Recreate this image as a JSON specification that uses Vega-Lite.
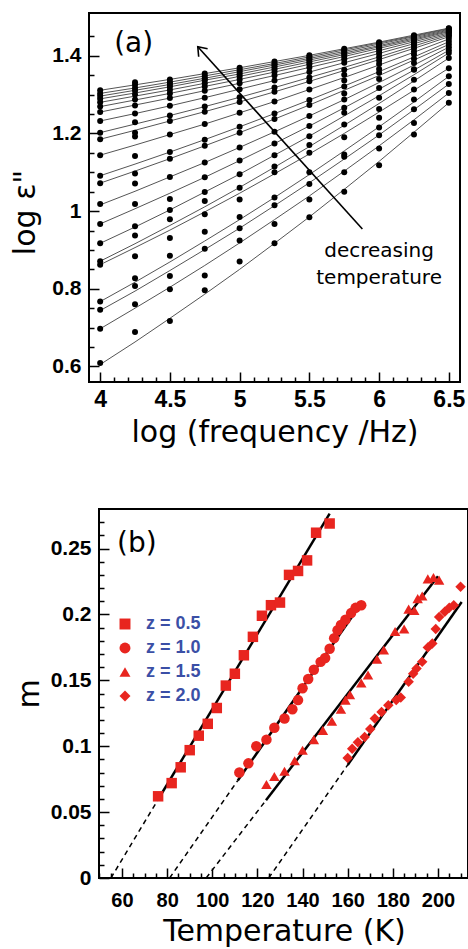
{
"$schema":"https://vega.github.io/schema/vega-lite/v6.json",
"background":"white",
"padding":{"left":8,"top":12,"right":0,"bottom":0},
"spacing":59,
"config":{
 "view":{"stroke":"black","strokeWidth":2},
 "axis":{"domain":false,"grid":false,"tickColor":"black","tickWidth":1.5,"tickSize":-10,"labelColor":"black","labelFont":"Liberation Sans","labelFontWeight":"bold","titleFont":"DejaVu Sans","titleFontWeight":"normal","titleColor":"black","labelOverlap":false,"labelSeparation":-50,"labelFlush":false},
 "text":{"font":"DejaVu Sans","color":"black"}
},
"datasets":{
 "curves":[
{"c":1,"X":4,"fit":0.605,"obs":0.609},{"c":1,"X":4.25,"fit":0.663,"obs":0.689},{"c":1,"X":4.5,"fit":0.724,"obs":0.717},{"c":1,"X":4.75,"fit":0.786,"obs":0.796},{"c":1,"X":5,"fit":0.85,"obs":0.87},{"c":1,"X":5.25,"fit":0.917,"obs":0.917},{"c":1,"X":5.5,"fit":0.985,"obs":0.984},{"c":1,"X":5.75,"fit":1.056,"obs":1.05},{"c":1,"X":6,"fit":1.128,"obs":1.118},{"c":1,"X":6.25,"fit":1.203,"obs":1.197},{"c":1,"X":6.5,"fit":1.279,"obs":1.279},
{"c":2,"X":4,"fit":0.697,"obs":0.697},{"c":2,"X":4.25,"fit":0.75,"obs":0.76},{"c":2,"X":4.5,"fit":0.804,"obs":0.799},{"c":2,"X":4.75,"fit":0.86,"obs":0.834},{"c":2,"X":5,"fit":0.918,"obs":0.924},{"c":2,"X":5.25,"fit":0.978,"obs":0.967},{"c":2,"X":5.5,"fit":1.039,"obs":1.03},{"c":2,"X":5.75,"fit":1.103,"obs":1.1},{"c":2,"X":6,"fit":1.168,"obs":1.161},{"c":2,"X":6.25,"fit":1.235,"obs":1.227},{"c":2,"X":6.5,"fit":1.304,"obs":1.304},
{"c":3,"X":4,"fit":0.744,"obs":0.746},{"c":3,"X":4.25,"fit":0.794,"obs":0.807},{"c":3,"X":4.5,"fit":0.847,"obs":0.833},{"c":3,"X":4.75,"fit":0.901,"obs":0.903},{"c":3,"X":5,"fit":0.956,"obs":0.956},{"c":3,"X":5.25,"fit":1.014,"obs":1.015},{"c":3,"X":5.5,"fit":1.073,"obs":1.07},{"c":3,"X":5.75,"fit":1.134,"obs":1.14},{"c":3,"X":6,"fit":1.196,"obs":1.195},{"c":3,"X":6.25,"fit":1.261,"obs":1.262},{"c":3,"X":6.5,"fit":1.327,"obs":1.327},
{"c":4,"X":4,"fit":0.767,"obs":0.767},{"c":4,"X":4.25,"fit":0.817,"obs":0.827},{"c":4,"X":4.5,"fit":0.869,"obs":0.885},{"c":4,"X":4.75,"fit":0.923,"obs":0.947},{"c":4,"X":5,"fit":0.978,"obs":0.985},{"c":4,"X":5.25,"fit":1.035,"obs":1.035},{"c":4,"X":5.5,"fit":1.094,"obs":1.1},{"c":4,"X":5.75,"fit":1.155,"obs":1.146},{"c":4,"X":6,"fit":1.217,"obs":1.215},{"c":4,"X":6.25,"fit":1.281,"obs":1.287},{"c":4,"X":6.5,"fit":1.347,"obs":1.347},
{"c":5,"X":4,"fit":0.862,"obs":0.862},{"c":5,"X":4.25,"fit":0.906,"obs":0.884},{"c":5,"X":4.5,"fit":0.951,"obs":0.931},{"c":5,"X":4.75,"fit":0.998,"obs":0.992},{"c":5,"X":5,"fit":1.046,"obs":1.03},{"c":5,"X":5.25,"fit":1.096,"obs":1.1},{"c":5,"X":5.5,"fit":1.147,"obs":1.15},{"c":5,"X":5.75,"fit":1.2,"obs":1.19},{"c":5,"X":6,"fit":1.255,"obs":1.24},{"c":5,"X":6.25,"fit":1.311,"obs":1.313},{"c":5,"X":6.5,"fit":1.368,"obs":1.368},
{"c":6,"X":4,"fit":0.871,"obs":0.871},{"c":6,"X":4.25,"fit":0.916,"obs":0.937},{"c":6,"X":4.5,"fit":0.963,"obs":0.979},{"c":6,"X":4.75,"fit":1.011,"obs":1.026},{"c":6,"X":5,"fit":1.061,"obs":1.06},{"c":6,"X":5.25,"fit":1.113,"obs":1.115},{"c":6,"X":5.5,"fit":1.166,"obs":1.17},{"c":6,"X":5.75,"fit":1.221,"obs":1.223},{"c":6,"X":6,"fit":1.277,"obs":1.263},{"c":6,"X":6.25,"fit":1.335,"obs":1.338},{"c":6,"X":6.5,"fit":1.394,"obs":1.394},
{"c":7,"X":4,"fit":0.917,"obs":0.917},{"c":7,"X":4.25,"fit":0.959,"obs":0.961},{"c":7,"X":4.5,"fit":1.003,"obs":1.003},{"c":7,"X":4.75,"fit":1.049,"obs":1.049},{"c":7,"X":5,"fit":1.095,"obs":1.095},{"c":7,"X":5.25,"fit":1.144,"obs":1.144},{"c":7,"X":5.5,"fit":1.193,"obs":1.193},{"c":7,"X":5.75,"fit":1.245,"obs":1.253},{"c":7,"X":6,"fit":1.297,"obs":1.292},{"c":7,"X":6.25,"fit":1.351,"obs":1.364},{"c":7,"X":6.5,"fit":1.407,"obs":1.407},
{"c":8,"X":4,"fit":0.967,"obs":0.967},{"c":8,"X":4.25,"fit":1.006,"obs":1.018},{"c":8,"X":4.5,"fit":1.046,"obs":1.031},{"c":8,"X":4.75,"fit":1.087,"obs":1.087},{"c":8,"X":5,"fit":1.13,"obs":1.13},{"c":8,"X":5.25,"fit":1.174,"obs":1.174},{"c":8,"X":5.5,"fit":1.219,"obs":1.219},{"c":8,"X":5.75,"fit":1.266,"obs":1.266},{"c":8,"X":6,"fit":1.314,"obs":1.317},{"c":8,"X":6.25,"fit":1.363,"obs":1.365},{"c":8,"X":6.5,"fit":1.414,"obs":1.414},
{"c":9,"X":4,"fit":1.016,"obs":1.018},{"c":9,"X":4.25,"fit":1.051,"obs":1.071},{"c":9,"X":4.5,"fit":1.088,"obs":1.088},{"c":9,"X":4.75,"fit":1.125,"obs":1.125},{"c":9,"X":5,"fit":1.164,"obs":1.164},{"c":9,"X":5.25,"fit":1.204,"obs":1.204},{"c":9,"X":5.5,"fit":1.245,"obs":1.245},{"c":9,"X":5.75,"fit":1.287,"obs":1.287},{"c":9,"X":6,"fit":1.331,"obs":1.34},{"c":9,"X":6.25,"fit":1.376,"obs":1.381},{"c":9,"X":6.5,"fit":1.422,"obs":1.422},
{"c":10,"X":4,"fit":1.072,"obs":1.072},{"c":10,"X":4.25,"fit":1.103,"obs":1.097},{"c":10,"X":4.5,"fit":1.135,"obs":1.135},{"c":10,"X":4.75,"fit":1.168,"obs":1.168},{"c":10,"X":5,"fit":1.202,"obs":1.202},{"c":10,"X":5.25,"fit":1.237,"obs":1.237},{"c":10,"X":5.5,"fit":1.273,"obs":1.273},{"c":10,"X":5.75,"fit":1.311,"obs":1.303},{"c":10,"X":6,"fit":1.349,"obs":1.356},{"c":10,"X":6.25,"fit":1.389,"obs":1.392},{"c":10,"X":6.5,"fit":1.429,"obs":1.429},
{"c":11,"X":4,"fit":1.091,"obs":1.091},{"c":11,"X":4.25,"fit":1.121,"obs":1.142},{"c":11,"X":4.5,"fit":1.152,"obs":1.152},{"c":11,"X":4.75,"fit":1.184,"obs":1.184},{"c":11,"X":5,"fit":1.217,"obs":1.217},{"c":11,"X":5.25,"fit":1.251,"obs":1.251},{"c":11,"X":5.5,"fit":1.286,"obs":1.286},{"c":11,"X":5.75,"fit":1.322,"obs":1.321},{"c":11,"X":6,"fit":1.359,"obs":1.366},{"c":11,"X":6.25,"fit":1.397,"obs":1.403},{"c":11,"X":6.5,"fit":1.436,"obs":1.436},
{"c":12,"X":4,"fit":1.144,"obs":1.144},{"c":12,"X":4.25,"fit":1.17,"obs":1.192},{"c":12,"X":4.5,"fit":1.197,"obs":1.197},{"c":12,"X":4.75,"fit":1.224,"obs":1.224},{"c":12,"X":5,"fit":1.253,"obs":1.253},{"c":12,"X":5.25,"fit":1.282,"obs":1.282},{"c":12,"X":5.5,"fit":1.313,"obs":1.313},{"c":12,"X":5.75,"fit":1.344,"obs":1.336},{"c":12,"X":6,"fit":1.376,"obs":1.379},{"c":12,"X":6.25,"fit":1.409,"obs":1.411},{"c":12,"X":6.5,"fit":1.443,"obs":1.443},
{"c":13,"X":4,"fit":1.185,"obs":1.185},{"c":13,"X":4.25,"fit":1.208,"obs":1.202},{"c":13,"X":4.5,"fit":1.232,"obs":1.232},{"c":13,"X":4.75,"fit":1.256,"obs":1.256},{"c":13,"X":5,"fit":1.281,"obs":1.281},{"c":13,"X":5.25,"fit":1.307,"obs":1.307},{"c":13,"X":5.5,"fit":1.334,"obs":1.334},{"c":13,"X":5.75,"fit":1.362,"obs":1.351},{"c":13,"X":6,"fit":1.39,"obs":1.388},{"c":13,"X":6.25,"fit":1.419,"obs":1.419},{"c":13,"X":6.5,"fit":1.449,"obs":1.449},
{"c":14,"X":4,"fit":1.202,"obs":1.202},{"c":14,"X":4.25,"fit":1.224,"obs":1.229},{"c":14,"X":4.5,"fit":1.246,"obs":1.246},{"c":14,"X":4.75,"fit":1.269,"obs":1.269},{"c":14,"X":5,"fit":1.293,"obs":1.293},{"c":14,"X":5.25,"fit":1.318,"obs":1.318},{"c":14,"X":5.5,"fit":1.344,"obs":1.344},{"c":14,"X":5.75,"fit":1.37,"obs":1.364},{"c":14,"X":6,"fit":1.397,"obs":1.397},{"c":14,"X":6.25,"fit":1.425,"obs":1.426},{"c":14,"X":6.5,"fit":1.453,"obs":1.453},
{"c":15,"X":4,"fit":1.232,"obs":1.232},{"c":15,"X":4.25,"fit":1.251,"obs":1.251},{"c":15,"X":4.5,"fit":1.271,"obs":1.271},{"c":15,"X":4.75,"fit":1.292,"obs":1.292},{"c":15,"X":5,"fit":1.314,"obs":1.314},{"c":15,"X":5.25,"fit":1.336,"obs":1.336},{"c":15,"X":5.5,"fit":1.358,"obs":1.358},{"c":15,"X":5.75,"fit":1.382,"obs":1.382},{"c":15,"X":6,"fit":1.406,"obs":1.406},{"c":15,"X":6.25,"fit":1.431,"obs":1.431},{"c":15,"X":6.5,"fit":1.456,"obs":1.456},
{"c":16,"X":4,"fit":1.255,"obs":1.255},{"c":16,"X":4.25,"fit":1.273,"obs":1.272},{"c":16,"X":4.5,"fit":1.291,"obs":1.291},{"c":16,"X":4.75,"fit":1.31,"obs":1.31},{"c":16,"X":5,"fit":1.329,"obs":1.329},{"c":16,"X":5.25,"fit":1.349,"obs":1.349},{"c":16,"X":5.5,"fit":1.37,"obs":1.37},{"c":16,"X":5.75,"fit":1.391,"obs":1.391},{"c":16,"X":6,"fit":1.413,"obs":1.413},{"c":16,"X":6.25,"fit":1.436,"obs":1.436},{"c":16,"X":6.5,"fit":1.459,"obs":1.459},
{"c":17,"X":4,"fit":1.269,"obs":1.269},{"c":17,"X":4.25,"fit":1.286,"obs":1.287},{"c":17,"X":4.5,"fit":1.303,"obs":1.303},{"c":17,"X":4.75,"fit":1.321,"obs":1.321},{"c":17,"X":5,"fit":1.339,"obs":1.339},{"c":17,"X":5.25,"fit":1.358,"obs":1.358},{"c":17,"X":5.5,"fit":1.378,"obs":1.378},{"c":17,"X":5.75,"fit":1.398,"obs":1.398},{"c":17,"X":6,"fit":1.419,"obs":1.419},{"c":17,"X":6.25,"fit":1.44,"obs":1.44},{"c":17,"X":6.5,"fit":1.462,"obs":1.462},
{"c":18,"X":4,"fit":1.28,"obs":1.28},{"c":18,"X":4.25,"fit":1.296,"obs":1.3},{"c":18,"X":4.5,"fit":1.312,"obs":1.312},{"c":18,"X":4.75,"fit":1.329,"obs":1.329},{"c":18,"X":5,"fit":1.347,"obs":1.347},{"c":18,"X":5.25,"fit":1.365,"obs":1.365},{"c":18,"X":5.5,"fit":1.384,"obs":1.384},{"c":18,"X":5.75,"fit":1.403,"obs":1.403},{"c":18,"X":6,"fit":1.423,"obs":1.423},{"c":18,"X":6.25,"fit":1.443,"obs":1.443},{"c":18,"X":6.5,"fit":1.464,"obs":1.464},
{"c":19,"X":4,"fit":1.289,"obs":1.289},{"c":19,"X":4.25,"fit":1.304,"obs":1.31},{"c":19,"X":4.5,"fit":1.32,"obs":1.32},{"c":19,"X":4.75,"fit":1.337,"obs":1.337},{"c":19,"X":5,"fit":1.353,"obs":1.353},{"c":19,"X":5.25,"fit":1.371,"obs":1.371},{"c":19,"X":5.5,"fit":1.389,"obs":1.389},{"c":19,"X":5.75,"fit":1.407,"obs":1.407},{"c":19,"X":6,"fit":1.426,"obs":1.426},{"c":19,"X":6.25,"fit":1.446,"obs":1.446},{"c":19,"X":6.5,"fit":1.466,"obs":1.466},
{"c":20,"X":4,"fit":1.296,"obs":1.296},{"c":20,"X":4.25,"fit":1.311,"obs":1.317},{"c":20,"X":4.5,"fit":1.326,"obs":1.326},{"c":20,"X":4.75,"fit":1.342,"obs":1.342},{"c":20,"X":5,"fit":1.359,"obs":1.359},{"c":20,"X":5.25,"fit":1.376,"obs":1.376},{"c":20,"X":5.5,"fit":1.393,"obs":1.393},{"c":20,"X":5.75,"fit":1.411,"obs":1.411},{"c":20,"X":6,"fit":1.43,"obs":1.43},{"c":20,"X":6.25,"fit":1.449,"obs":1.449},{"c":20,"X":6.5,"fit":1.468,"obs":1.468},
{"c":21,"X":4,"fit":1.303,"obs":1.303},{"c":21,"X":4.25,"fit":1.317,"obs":1.325},{"c":21,"X":4.5,"fit":1.332,"obs":1.332},{"c":21,"X":4.75,"fit":1.348,"obs":1.348},{"c":21,"X":5,"fit":1.364,"obs":1.364},{"c":21,"X":5.25,"fit":1.38,"obs":1.38},{"c":21,"X":5.5,"fit":1.397,"obs":1.397},{"c":21,"X":5.75,"fit":1.415,"obs":1.415},{"c":21,"X":6,"fit":1.433,"obs":1.433},{"c":21,"X":6.25,"fit":1.451,"obs":1.451},{"c":21,"X":6.5,"fit":1.47,"obs":1.47},
{"c":22,"X":4,"fit":1.311,"obs":1.311},{"c":22,"X":4.25,"fit":1.325,"obs":1.332},{"c":22,"X":4.5,"fit":1.339,"obs":1.339},{"c":22,"X":4.75,"fit":1.354,"obs":1.354},{"c":22,"X":5,"fit":1.369,"obs":1.369},{"c":22,"X":5.25,"fit":1.385,"obs":1.385},{"c":22,"X":5.5,"fit":1.401,"obs":1.401},{"c":22,"X":5.75,"fit":1.418,"obs":1.418},{"c":22,"X":6,"fit":1.435,"obs":1.435},{"c":22,"X":6.25,"fit":1.453,"obs":1.453},{"c":22,"X":6.5,"fit":1.471,"obs":1.471}
 ],
 "arrow":[{"X":5.88,"Y":0.954,"X2":4.7,"Y2":1.423}],
 "head":[{"X":4.7,"Y":1.423}],
 "noteA":[{"X":6.0,"Y":0.881,"label":["decreasing","temperature"]}],
 "tagA":[{"X":4.24,"Y":1.41,"label":"(a)"}],
 "tagB":[{"X":66.6,"Y":0.2477,"label":"(b)"}],
 "fits":[
{"z":"z = 0.5","seg":"d","X":55.1,"Y":0},{"z":"z = 0.5","seg":"d","X":75.8,"Y":0.059},{"z":"z = 0.5","seg":"s","X":75.8,"Y":0.059},{"z":"z = 0.5","seg":"s","X":152,"Y":0.2765},
{"z":"z = 1.0","seg":"d","X":81.1,"Y":0},{"z":"z = 1.0","seg":"d","X":111.3,"Y":0.074},{"z":"z = 1.0","seg":"s","X":111.3,"Y":0.074},{"z":"z = 1.0","seg":"s","X":166,"Y":0.2083},
{"z":"z = 1.5","seg":"d","X":97.3,"Y":0},{"z":"z = 1.5","seg":"d","X":123.8,"Y":0.059},{"z":"z = 1.5","seg":"s","X":123.8,"Y":0.059},{"z":"z = 1.5","seg":"s","X":200,"Y":0.229},
{"z":"z = 2.0","seg":"d","X":125,"Y":0},{"z":"z = 2.0","seg":"d","X":160,"Y":0.0858},{"z":"z = 2.0","seg":"s","X":160,"Y":0.0858},{"z":"z = 2.0","seg":"s","X":210.5,"Y":0.2095}
 ],
 "pts":[
{"z":"z = 0.5","X":76,"Y":0.062},{"z":"z = 0.5","X":82,"Y":0.072},{"z":"z = 0.5","X":86,"Y":0.084},{"z":"z = 0.5","X":90,"Y":0.097},{"z":"z = 0.5","X":94,"Y":0.108},{"z":"z = 0.5","X":98,"Y":0.117},{"z":"z = 0.5","X":102,"Y":0.129},{"z":"z = 0.5","X":106,"Y":0.146},{"z":"z = 0.5","X":110,"Y":0.155},{"z":"z = 0.5","X":114,"Y":0.169},{"z":"z = 0.5","X":118,"Y":0.183},{"z":"z = 0.5","X":122,"Y":0.199},{"z":"z = 0.5","X":126,"Y":0.207},{"z":"z = 0.5","X":130,"Y":0.209},{"z":"z = 0.5","X":134,"Y":0.23},{"z":"z = 0.5","X":138,"Y":0.233},{"z":"z = 0.5","X":142,"Y":0.241},{"z":"z = 0.5","X":146,"Y":0.262},{"z":"z = 0.5","X":152,"Y":0.269},
{"z":"z = 1.0","X":112,"Y":0.08},{"z":"z = 1.0","X":116,"Y":0.087},{"z":"z = 1.0","X":119.5,"Y":0.1},{"z":"z = 1.0","X":124,"Y":0.105},{"z":"z = 1.0","X":127.5,"Y":0.114},{"z":"z = 1.0","X":132,"Y":0.121},{"z":"z = 1.0","X":135.5,"Y":0.128},{"z":"z = 1.0","X":138,"Y":0.135},{"z":"z = 1.0","X":140,"Y":0.144},{"z":"z = 1.0","X":142.5,"Y":0.151},{"z":"z = 1.0","X":145,"Y":0.158},{"z":"z = 1.0","X":148,"Y":0.164},{"z":"z = 1.0","X":150,"Y":0.167},{"z":"z = 1.0","X":152,"Y":0.174},{"z":"z = 1.0","X":154,"Y":0.182},{"z":"z = 1.0","X":155.5,"Y":0.188},{"z":"z = 1.0","X":157,"Y":0.192},{"z":"z = 1.0","X":159,"Y":0.196},{"z":"z = 1.0","X":161.5,"Y":0.201},{"z":"z = 1.0","X":163.5,"Y":0.205},{"z":"z = 1.0","X":166,"Y":0.207},
{"z":"z = 1.5","X":124,"Y":0.071},{"z":"z = 1.5","X":127.5,"Y":0.077},{"z":"z = 1.5","X":132,"Y":0.081},{"z":"z = 1.5","X":136.5,"Y":0.089},{"z":"z = 1.5","X":140,"Y":0.097},{"z":"z = 1.5","X":145,"Y":0.105},{"z":"z = 1.5","X":149,"Y":0.112},{"z":"z = 1.5","X":153,"Y":0.119},{"z":"z = 1.5","X":157,"Y":0.128},{"z":"z = 1.5","X":159,"Y":0.135},{"z":"z = 1.5","X":161,"Y":0.139},{"z":"z = 1.5","X":166,"Y":0.148},{"z":"z = 1.5","X":169,"Y":0.154},{"z":"z = 1.5","X":173,"Y":0.166},{"z":"z = 1.5","X":176,"Y":0.173},{"z":"z = 1.5","X":181,"Y":0.187},{"z":"z = 1.5","X":185,"Y":0.189},{"z":"z = 1.5","X":187,"Y":0.204},{"z":"z = 1.5","X":189.5,"Y":0.203},{"z":"z = 1.5","X":191,"Y":0.212},{"z":"z = 1.5","X":193,"Y":0.214},{"z":"z = 1.5","X":195.5,"Y":0.227},{"z":"z = 1.5","X":198,"Y":0.228},{"z":"z = 1.5","X":200.5,"Y":0.226},
{"z":"z = 2.0","X":160,"Y":0.091},{"z":"z = 2.0","X":162,"Y":0.098},{"z":"z = 2.0","X":164.5,"Y":0.103},{"z":"z = 2.0","X":167.5,"Y":0.107},{"z":"z = 2.0","X":170,"Y":0.113},{"z":"z = 2.0","X":172,"Y":0.121},{"z":"z = 2.0","X":175,"Y":0.126},{"z":"z = 2.0","X":178,"Y":0.131},{"z":"z = 2.0","X":181.5,"Y":0.135},{"z":"z = 2.0","X":183.5,"Y":0.137},{"z":"z = 2.0","X":187,"Y":0.149},{"z":"z = 2.0","X":189,"Y":0.155},{"z":"z = 2.0","X":190.5,"Y":0.159},{"z":"z = 2.0","X":193,"Y":0.164},{"z":"z = 2.0","X":195.5,"Y":0.175},{"z":"z = 2.0","X":197.5,"Y":0.178},{"z":"z = 2.0","X":199,"Y":0.189},{"z":"z = 2.0","X":200.5,"Y":0.198},{"z":"z = 2.0","X":203,"Y":0.202},{"z":"z = 2.0","X":205,"Y":0.205},{"z":"z = 2.0","X":207,"Y":0.207},{"z":"z = 2.0","X":210,"Y":0.221}
 ]
},
"vconcat":[
 {"spacing":0,"hconcat":[
  {"width":1,"height":1,"data":{"values":[]},"mark":"point","view":{"stroke":null}},
  {
  "width":371,"height":369,
  "encoding":{
   "x":{"field":"X","type":"quantitative","title":"log (frequency /Hz)","scale":{"domain":[3.92,6.58],"nice":false,"zero":false},
    "axis":{"values":[4,4.1,4.2,4.3,4.4,4.5,4.6,4.7,4.8,4.9,5,5.1,5.2,5.3,5.4,5.5,5.6,5.7,5.8,5.9,6,6.1,6.2,6.3,6.4,6.5],"format":"~g","labelOverlap":false,"labelSeparation":-50,
     "labelExpr":"abs(datum.value*2-round(datum.value*2))<0.001 ? datum.label : ''",
     "tickDash":{"condition":{"test":"abs(datum.value*2-round(datum.value*2))>0.001","value":[5,30]},"value":[1,0]},
     "labelFontSize":23,"labelPadding":16,"titleFontSize":30,"titleBaseline":"alphabetic","titleY":59}},
   "y":{"field":"Y","type":"quantitative","title":"log ε\"","scale":{"domain":[0.56,1.51],"nice":false,"zero":false},
    "axis":{"values":[0.6,0.65,0.7,0.75,0.8,0.85,0.9,0.95,1,1.05,1.1,1.15,1.2,1.25,1.3,1.35,1.4,1.45],"format":"~g","labelOverlap":false,"labelSeparation":-50,
     "labelExpr":"abs(datum.value*5-round(datum.value*5))<0.001 ? datum.label : ''",
     "tickDash":{"condition":{"test":"abs(datum.value*5-round(datum.value*5))>0.001","value":[5,30]},"value":[1,0]},
     "labelFontSize":21,"labelPadding":18,"titleFontSize":30,"titleBaseline":"alphabetic","titleX":-55,"titleY":199}}
  },
  "layer":[
   {"data":{"name":"curves"},
    "transform":[{"fold":["fit","obs"],"as":["kind","Y"]},{"filter":"datum.kind === 'fit'"}],
    "mark":{"type":"line","color":"#555555","strokeWidth":1},
    "encoding":{"detail":{"field":"c","type":"nominal"}}},
   {"data":{"name":"curves"},
    "transform":[{"fold":["fit","obs"],"as":["kind","Y"]},{"filter":"datum.kind === 'obs'"}],
    "mark":{"type":"point","filled":true,"color":"black","size":36,"opacity":1}},
   {"data":{"name":"arrow"},
    "mark":{"type":"rule","color":"black","strokeWidth":1.6},
    "encoding":{"x2":{"field":"X2"},"y2":{"field":"Y2"}}},
   {"data":{"name":"head"},
    "mark":{"type":"point","shape":"M-0.6,0.8L0,0L0.6,0.8","filled":false,"color":"black","strokeWidth":1.6,"size":400,"angle":318,"opacity":1}},
   {"data":{"name":"noteA"},
    "mark":{"type":"text","font":"DejaVu Sans","fontSize":20,"align":"center","baseline":"alphabetic","lineHeight":27,"color":"black"},
    "encoding":{"text":{"field":"label"}}},
   {"data":{"name":"tagA"},
    "mark":{"type":"text","font":"DejaVu Sans","fontSize":28,"align":"center","baseline":"alphabetic","color":"black"},
    "encoding":{"text":{"field":"label"}}}
  ]
  }
 ]},
 {"spacing":0,"hconcat":[
  {"width":5,"height":1,"data":{"values":[]},"mark":"point","view":{"stroke":null}},
  {
  "width":369,"height":369,
  "encoding":{
   "x":{"field":"X","type":"quantitative","title":"Temperature (K)","scale":{"domain":[49.81,213.3],"nice":false,"zero":false},
    "axis":{"values":[50,55,60,65,70,75,80,85,90,95,100,105,110,115,120,125,130,135,140,145,150,155,160,165,170,175,180,185,190,195,200,205,210],"format":"~g","labelOverlap":false,"labelSeparation":-50,
     "labelExpr":"datum.value % 20 === 0 ? datum.label : ''",
     "tickDash":{"condition":{"test":"datum.value % 20 !== 0","value":[5,30]},"value":[1,0]},
     "labelFontSize":20,"labelPadding":22,"titleFontSize":30,"titleBaseline":"alphabetic","titleX":185,"titleY":62}},
   "y":{"field":"Y","type":"quantitative","title":"m","scale":{"domain":[0,0.28],"nice":false,"zero":false},
    "axis":{"values":[0,0.01,0.02,0.03,0.04,0.05,0.06,0.07,0.08,0.09,0.1,0.11,0.12,0.13,0.14,0.15,0.16,0.17,0.18,0.19,0.2,0.21,0.22,0.23,0.24,0.25,0.26,0.27],"format":"~g","labelOverlap":false,"labelSeparation":-50,
     "labelExpr":"abs(datum.value*20-round(datum.value*20))<0.001 ? datum.label : ''",
     "tickDash":{"condition":{"test":"abs(datum.value*20-round(datum.value*20))>0.001","value":[5,30]},"value":[1,0]},
     "labelFontSize":21,"labelPadding":18,"titleFontSize":30,"titleBaseline":"alphabetic","titleX":-61}}
  },
  "layer":[
   {"data":{"name":"fits"},
    "transform":[{"filter":"datum.seg === 'd'"}],
    "mark":{"type":"line","color":"black","strokeWidth":1.5,"strokeDash":[5,4]},
    "encoding":{"detail":{"field":"z","type":"nominal"}}},
   {"data":{"name":"fits"},
    "transform":[{"filter":"datum.seg === 's'"}],
    "mark":{"type":"line","color":"black","strokeWidth":2.5},
    "encoding":{"detail":{"field":"z","type":"nominal"}}},
   {"data":{"name":"pts"},
    "mark":{"type":"point","filled":true,"color":"#e8251f","size":110,"opacity":1,"strokeWidth":0},
    "encoding":{
     "shape":{"field":"z","type":"nominal","scale":{"domain":["z = 0.5","z = 1.0","z = 1.5","z = 2.0"],"range":["square","circle","triangle-up","diamond"]},
      "legend":{"orient":"none","legendX":108,"legendY":602,"title":null,"padding":0,"labelFont":"Liberation Sans","labelFontWeight":"bold","labelFontSize":18,"labelColor":"#3b4fa6","symbolSize":120,"symbolFillColor":"#e8251f","symbolStrokeWidth":0,"symbolOpacity":1,"rowPadding":6,"labelOffset":12}}}},
   {"data":{"name":"tagB"},
    "mark":{"type":"text","font":"DejaVu Sans","fontSize":28,"align":"center","baseline":"alphabetic","color":"black"},
    "encoding":{"text":{"field":"label"}}}
  ]
  }
 ]}
]
}
